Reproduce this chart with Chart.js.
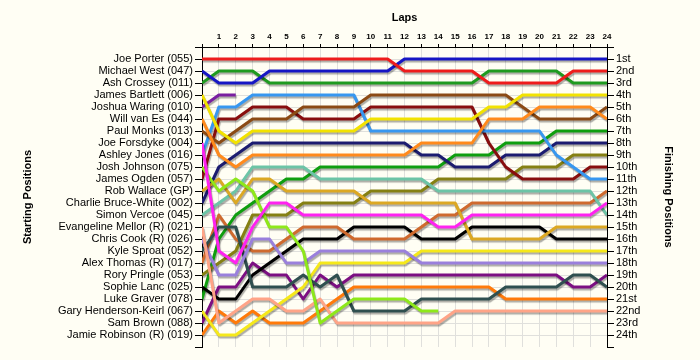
<!DOCTYPE html>
<html>
<head>
<meta charset="utf-8">
<script src="https://cdn.jsdelivr.net/npm/chart.js@4/dist/chart.umd.min.js"></script>
<style>
    html, body { margin: 0; padding: 0; background: #fffef4; }
    #lapChart { display: block; }
</style>
</head>
<body>
<canvas id="lapChart" width="700" height="360"></canvas>
<script>
    // laps on the top axis, 0 = grid
    const laps = [0, 1, 2, 3, 4, 5, 6, 7, 8, 9, 10, 11, 12, 13, 14, 15, 16, 17, 18, 19, 20, 21, 22, 23, 24];

    const startingNames = [
        'Joe Porter (055)', 'Michael West (047)', 'Ash Crossey (011)', 'James Bartlett (006)',
        'Joshua Waring (010)', 'Will van Es (044)', 'Paul Monks (013)', 'Joe Forsdyke (004)',
        'Ashley Jones (016)', 'Josh Johnson (075)', 'James Ogden (057)', 'Rob Wallace (GP)',
        'Charlie Bruce-White (002)', 'Simon Vercoe (045)', 'Evangeline Mellor (R) (021)', 'Chris Cook (R) (026)',
        'Kyle Sproat (052)', 'Alex Thomas (R) (017)', 'Rory Pringle (053)', 'Sophie Lanc (025)',
        'Luke Graver (078)', 'Gary Henderson-Keirl (067)', 'Sam Brown (088)', 'Jamie Robinson (R) (019)'
    ];

    const finishingLabels = [
        '1st', '2nd', '3rd', '4th', '5th', '6th', '7th', '8th', '9th', '10th', '11th', '12th',
        '13th', '14th', '15th', '16th', '17th', '18th', '19th', '20th', '21st', '22nd', '23rd', '24th'
    ];

    // position per lap (index = lap), null = retired
    const joePorter        = [1, 1, 1, 1, 1, 1, 1, 1, 1, 1, 1, 1, 2, 2, 2, 2, 2, 3, 3, 3, 3, 3, 2, 2, 2];
    const michaelWest      = [2, 3, 3, 3, 2, 2, 2, 2, 2, 2, 2, 2, 1, 1, 1, 1, 1, 1, 1, 1, 1, 1, 1, 1, 1];
    const ashCrossey       = [3, 2, 2, 2, 3, 3, 3, 3, 3, 3, 3, 3, 3, 3, 3, 3, 3, 2, 2, 2, 2, 2, 3, 3, 3];
    const jamesBartlett    = [4, 7, 8, 7, 7, 7, 7, 7, 7, 7, 6, 6, 6, 6, 6, 6, 6, 5, 5, 4, 4, 4, 4, 4, 4];
    const joshuaWaring     = [5, 4, 4, null, null, null, null, null, null, null, null, null, null, null, null, null, null, null, null, null, null, null, null, null, null];
    const willVanEs        = [6, 9, 10, 9, 9, 9, 9, 9, 9, 9, 9, 9, 9, 8, 8, 8, 8, 6, 6, 6, 5, 5, 5, 5, 6];
    const paulMonks        = [7, 8, 7, 6, 6, 6, 5, 5, 5, 5, 4, 4, 4, 4, 4, 4, 4, 4, 4, 5, 6, 6, 6, 6, 5];
    const joeForsdyke      = [8, 17, 18, 15, 13, 13, 14, 14, 14, 14, 14, 14, 14, 14, 15, 15, 14, 14, 14, 14, 14, 14, 14, 14, 13];
    const ashleyJones      = [9, 5, 5, 4, 4, 4, 4, 4, 4, 4, 7, 7, 7, 7, 7, 7, 7, 7, 7, 7, 7, 9, 10, 11, 11];
    const joshJohnson      = [10, 12, 11, 12, 15, 15, 17, 23, 22, 21, 21, 21, 21, 22, 22, null, null, null, null, null, null, null, null, null, null];
    const jamesOgden       = [11, 6, 6, 5, 5, 5, 6, 6, 6, 6, 5, 5, 5, 5, 5, 5, 5, 8, 10, 11, 11, 11, 11, 10, 10];
    const robWallace       = [12, 11, 13, 11, 11, 12, 12, 12, 12, 12, 13, 13, 13, 13, 13, 13, 16, 16, 16, 16, 16, 15, 15, 15, 15];
    const charlieBruceWhite = [13, 10, 9, 8, 8, 8, 8, 8, 8, 8, 8, 8, 8, 9, 9, 10, 10, 10, 9, 9, 9, 8, 8, 8, 8];
    const simonVercoe      = [14, 13, 12, 10, 10, 10, 10, 11, 11, 11, 11, 11, 11, 11, 12, 12, 12, 12, 12, 12, 12, 12, 12, 12, 14];
    const evangelineMellor = [15, 23, 22, 21, 21, 22, 22, 21, 23, 23, 23, 23, 23, 23, 23, 22, 22, 22, 22, 22, 22, 22, 22, 22, 22];
    const chrisCook        = [16, 19, 19, 16, 16, 18, 18, 17, 17, 17, 17, 17, 17, 18, 18, 18, 18, 18, 18, 18, 18, 18, 18, 18, 18];
    const kyleSproat       = [17, 15, 15, 20, 20, 20, 19, 20, 19, 22, 22, 22, 22, 21, 21, 21, 21, 21, 20, 20, 20, 20, 19, 19, 20];
    const alexThomas       = [18, 14, 16, 17, 17, 16, 15, 15, 15, 16, 16, 16, 16, 15, 14, 14, 13, 13, 13, 13, 13, 13, 13, 13, 12];
    const roryPringle      = [19, 18, 17, 14, 14, 14, 13, 13, 13, 13, 12, 12, 12, 12, 11, 11, 11, 11, 11, 10, 10, 10, 9, 9, 9];
    const sophieLanc       = [20, 21, 21, 19, 18, 17, 16, 16, 16, 15, 15, 15, 15, 16, 16, 16, 15, 15, 15, 15, 15, 16, 16, 16, 16];
    const lukeGraver       = [21, 16, 14, 13, 12, 11, 11, 10, 10, 10, 10, 10, 10, 10, 10, 9, 9, 9, 8, 8, 8, 7, 7, 7, 7];
    const garyHendersonKeirl = [22, 24, 24, 23, 22, 21, 20, 18, 18, 18, 18, 18, 18, 17, 17, 17, 17, 17, 17, 17, 17, 17, 17, 17, 17];
    const samBrown         = [23, 20, 20, 18, 19, 19, 21, 19, 20, 19, 19, 19, 19, 19, 19, 19, 19, 19, 19, 19, 19, 19, 20, 20, 19];
    const jamieRobinson    = [24, 22, 23, 22, 23, 23, 23, 22, 21, 20, 20, 20, 20, 20, 20, 20, 20, 20, 21, 21, 21, 21, 21, 21, 21];

    const driverLaps = [
        joePorter, michaelWest, ashCrossey, jamesBartlett, joshuaWaring, willVanEs, paulMonks, joeForsdyke,
        ashleyJones, joshJohnson, jamesOgden, robWallace, charlieBruceWhite, simonVercoe, evangelineMellor, chrisCook,
        kyleSproat, alexThomas, roryPringle, sophieLanc, lukeGraver, garyHendersonKeirl, samBrown, jamieRobinson
    ];

    const lineColors = [
        '#ee1c1c', '#1616c4', '#1f9a1f', '#f2e200', '#7a1fa0', '#ff8a1c', '#8b4a14', '#ff22f0',
        '#3797f0', '#8ee81a', '#880e0e', '#dca823', '#1c1c70', '#6cc4a6', '#ffa487', '#9a80dc',
        '#2f4f4f', '#cf6a2e', '#858012', '#000000', '#0f9e0f', '#f5e81a', '#7c0f82', '#ff7a0a'
    ];

    (function() {
        'use strict';

        const bg = '#fffef4';

        const fondo = {
            id: 'fondo',
            beforeDraw(chart) {
                const c = chart.ctx;
                c.save();
                c.fillStyle = bg;
                c.fillRect(0, 0, chart.width, chart.height);
                c.restore();
            }
        };

        const sombra = {
            id: 'sombra',
            beforeDatasetsDraw(chart) {
                const c = chart.ctx;
                c.save();
                c.shadowColor = 'rgba(0,0,0,0.32)';
                c.shadowOffsetX = 1;
                c.shadowOffsetY = 2;
                c.shadowBlur = 1;
            },
            afterDatasetsDraw(chart) {
                chart.ctx.restore();
            }
        };

        function gridColor(ctx) {
            const v = ctx.tick ? ctx.tick.value : -1;
            return (v === 0 || v === 25) ? 'rgba(0,0,0,0)' : '#e0e0dc';
        }

        function posTicks(scale) {
            const t = [];
            for (let i = 0; i <= 25; i++) t.push({ value: i });
            scale.ticks = t;
        }

        const datasets = driverLaps.map((d, i) => ({
            label: startingNames[i],
            data: d,
            borderColor: lineColors[i],
            backgroundColor: lineColors[i],
            borderWidth: 3,
            pointRadius: 0,
            tension: 0,
            spanGaps: false,
            borderJoinStyle: 'round',
            yAxisID: 'y'
        }));

        new Chart(document.getElementById('lapChart').getContext('2d'), {
            type: 'line',
            data: { labels: laps, datasets: datasets },
            plugins: [fondo, sombra],
            options: {
                responsive: false,
                animation: false,
                layout: { padding: { top: 0, left: 0, right: 0, bottom: 13 } },
                plugins: {
                    legend: { display: false },
                    tooltip: { enabled: false }
                },
                scales: {
                    x: {
                        type: 'linear',
                        position: 'top',
                        min: 0,
                        max: 24,
                        afterBuildTicks: s => { s.ticks = laps.map(v => ({ value: v })); },
                        afterFit: s => { s.height = 47; },
                        ticks: {
                            autoSkip: false,
                            maxRotation: 0,
                            padding: 2,
                            color: '#000',
                            font: { family: 'Liberation Sans, Arial, sans-serif', size: 8, weight: 'bold' },
                            callback: v => v === 0 ? '' : String(v)
                        },
                        grid: { color: gridColor, tickColor: '#000', tickLength: 3, lineWidth: 1 },
                        border: { color: '#000', width: 1 },
                        title: {
                            display: true,
                            text: 'Laps',
                            color: '#000',
                            font: { family: 'Liberation Sans, Arial, sans-serif', size: 11, weight: 'bold' },
                            padding: { top: 11, bottom: 0 }
                        }
                    },
                    y: {
                        type: 'linear',
                        position: 'left',
                        reverse: true,
                        min: 0,
                        max: 25,
                        afterBuildTicks: posTicks,
                        afterFit: s => { s.width = 202; },
                        ticks: {
                            autoSkip: false,
                            padding: 2,
                            color: '#000',
                            font: { family: 'Liberation Sans, Arial, sans-serif', size: 11 },
                            callback: v => startingNames[v - 1] || ''
                        },
                        grid: { color: gridColor, tickColor: '#000', tickLength: 7 },
                        border: { color: '#000' },
                        title: {
                            display: true,
                            text: 'Starting Positions',
                            color: '#000',
                            font: { family: 'Liberation Sans, Arial, sans-serif', size: 11, weight: 'bold' },
                            padding: { top: 21, bottom: 0 }
                        }
                    },
                    y2: {
                        type: 'linear',
                        position: 'right',
                        reverse: true,
                        min: 0,
                        max: 25,
                        afterBuildTicks: posTicks,
                        afterFit: s => { s.width = 93; },
                        ticks: {
                            autoSkip: false,
                            padding: 2,
                            color: '#000',
                            font: { family: 'Liberation Sans, Arial, sans-serif', size: 11 },
                            callback: v => finishingLabels[v - 1] || ''
                        },
                        grid: { drawOnChartArea: false, tickColor: '#000', tickLength: 7 },
                        border: { color: '#000' },
                        title: {
                            display: true,
                            text: 'Finishing Positions',
                            color: '#000',
                            font: { family: 'Liberation Sans, Arial, sans-serif', size: 11, weight: 'bold' },
                            padding: { top: 25, bottom: 0 }
                        }
                    }
                }
            }
        });
    })();
</script>
</body>
</html>
